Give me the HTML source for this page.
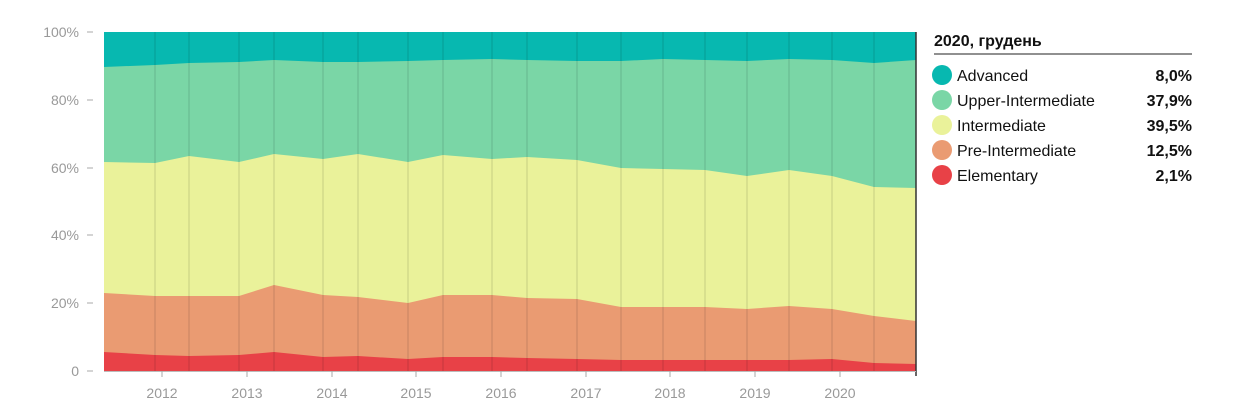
<!DOCTYPE html>
<html><head><meta charset="utf-8"><style>
body{margin:0;background:#fff;}
svg{display:block;font-family:"Liberation Sans",sans-serif;}
</style></head><body>
<svg width="1255" height="420" xmlns="http://www.w3.org/2000/svg">
<rect x="104" y="32" width="812" height="339" fill="#07b8b0"/>
<polygon fill="#7ad6a6" points="104,67 155,65 189,63 239,62 274,60 323,62 358,62 408,61 443,60 492,59 527,60 577,61 621,61 663,59 705,60 747,61 789,59 832,60 874,63 916,60 916,371 104,371"/>
<polygon fill="#eaf29a" points="104,162 155,163 189,156 239,162 274,154 323,159 358,154 408,162 443,155 492,159 527,157 577,160 621,168 663,169 705,170 747,176 789,170 832,176 874,187 916,188 916,371 104,371"/>
<polygon fill="#ea9b72" points="104,293 155,296 189,296 239,296 274,285 323,295 358,297 408,303 443,295 492,295 527,298 577,299 621,307 663,307 705,307 747,309 789,306 832,309 874,316 916,321 916,371 104,371"/>
<polygon fill="#e84147" points="104,352 155,355 189,356 239,355 274,352 323,357 358,356 408,359 443,357 492,357 527,358 577,359 621,360 663,360 705,360 747,360 789,360 832,359 874,363 916,364 916,371 104,371"/>
<g stroke="rgba(0,0,0,0.15)" stroke-width="1">
<line x1="155" y1="32" x2="155" y2="371"/><line x1="189" y1="32" x2="189" y2="371"/><line x1="239" y1="32" x2="239" y2="371"/><line x1="274" y1="32" x2="274" y2="371"/><line x1="323" y1="32" x2="323" y2="371"/><line x1="358" y1="32" x2="358" y2="371"/><line x1="408" y1="32" x2="408" y2="371"/><line x1="443" y1="32" x2="443" y2="371"/><line x1="492" y1="32" x2="492" y2="371"/><line x1="527" y1="32" x2="527" y2="371"/><line x1="577" y1="32" x2="577" y2="371"/><line x1="621" y1="32" x2="621" y2="371"/><line x1="663" y1="32" x2="663" y2="371"/><line x1="705" y1="32" x2="705" y2="371"/><line x1="747" y1="32" x2="747" y2="371"/><line x1="789" y1="32" x2="789" y2="371"/><line x1="832" y1="32" x2="832" y2="371"/><line x1="874" y1="32" x2="874" y2="371"/>
</g>
<line x1="916" y1="32" x2="916" y2="376" stroke="#333" stroke-width="1.5"/>
<line x1="104" y1="371.5" x2="916" y2="371.5" stroke="#bbb"/>
<g stroke="#aaa"><line x1="162" y1="371" x2="162" y2="377"/><line x1="247" y1="371" x2="247" y2="377"/><line x1="332" y1="371" x2="332" y2="377"/><line x1="416" y1="371" x2="416" y2="377"/><line x1="501" y1="371" x2="501" y2="377"/><line x1="586" y1="371" x2="586" y2="377"/><line x1="670" y1="371" x2="670" y2="377"/><line x1="755" y1="371" x2="755" y2="377"/><line x1="840" y1="371" x2="840" y2="377"/>
<line x1="87" y1="32" x2="93" y2="32"/><line x1="87" y1="100" x2="93" y2="100"/><line x1="87" y1="168" x2="93" y2="168"/><line x1="87" y1="235" x2="93" y2="235"/><line x1="87" y1="303" x2="93" y2="303"/><line x1="87" y1="371" x2="93" y2="371"/></g>
<g fill="#999" font-size="14" text-anchor="end">
<text x="79" y="37">100%</text><text x="79" y="105">80%</text><text x="79" y="173">60%</text><text x="79" y="240">40%</text><text x="79" y="308">20%</text><text x="79" y="376">0</text></g>
<g fill="#999" font-size="14" text-anchor="middle">
<text x="162" y="398">2012</text><text x="247" y="398">2013</text><text x="332" y="398">2014</text><text x="416" y="398">2015</text><text x="501" y="398">2016</text><text x="586" y="398">2017</text><text x="670" y="398">2018</text><text x="755" y="398">2019</text><text x="840" y="398">2020</text></g>
<text x="934" y="46" font-size="16" font-weight="bold" fill="#111">2020, грудень</text>
<line x1="934" y1="54" x2="1192" y2="54" stroke="#222"/>
<g font-size="16" fill="#111">
<circle cx="942" cy="75" r="10" fill="#07b8b0"/><text x="957" y="81">Advanced</text>
<circle cx="942" cy="100" r="10" fill="#7ad6a6"/><text x="957" y="106">Upper-Intermediate</text>
<circle cx="942" cy="125" r="10" fill="#eaf29a"/><text x="957" y="131">Intermediate</text>
<circle cx="942" cy="150" r="10" fill="#ea9b72"/><text x="957" y="156">Pre-Intermediate</text>
<circle cx="942" cy="175" r="10" fill="#e84147"/><text x="957" y="181">Elementary</text>
</g>
<g font-size="16" font-weight="bold" fill="#111" text-anchor="end">
<text x="1192" y="81">8,0%</text><text x="1192" y="106">37,9%</text><text x="1192" y="131">39,5%</text><text x="1192" y="156">12,5%</text><text x="1192" y="181">2,1%</text></g>
</svg>
</body></html>
